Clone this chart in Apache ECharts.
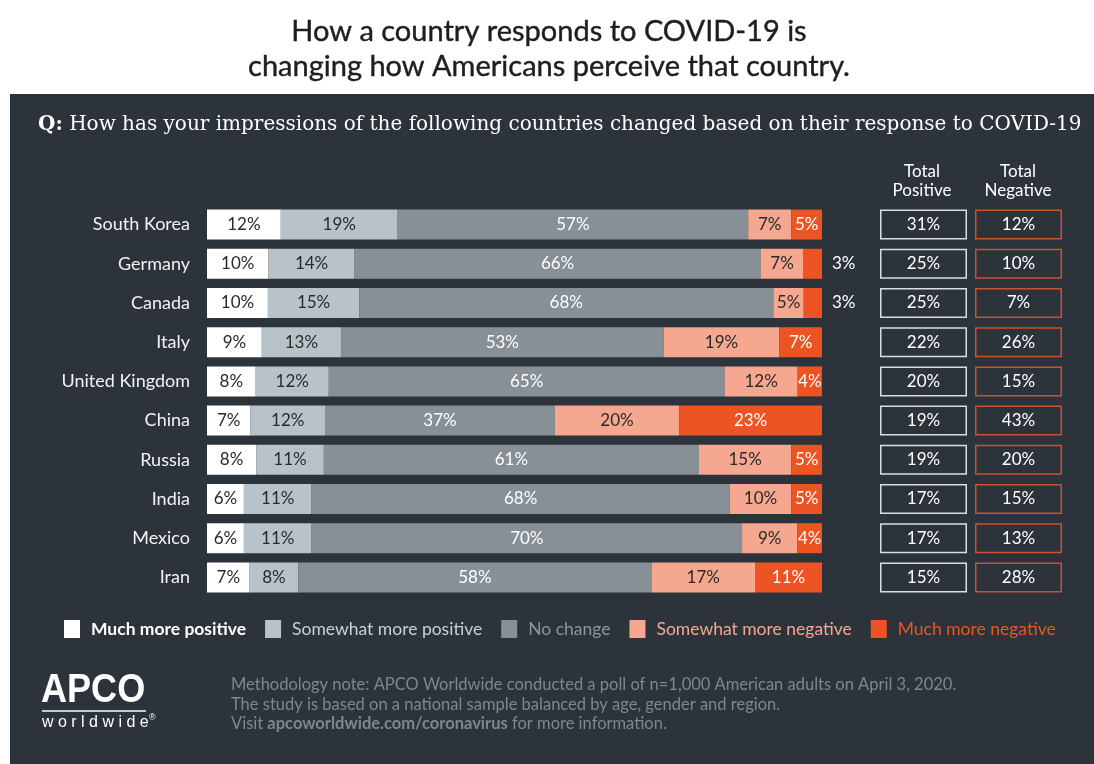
<!DOCTYPE html>
<html>
<head>
<meta charset="utf-8">
<script src="https://cdn.jsdelivr.net/npm/echarts@6/dist/echarts.min.js"></script>
<style>
html,body{margin:0;padding:0;background:#fff;}
#chart{width:1094px;height:764px;}
</style>
</head>
<body>
<div id="chart"></div>
<script>
const categories = ['South Korea','Germany','Canada','Italy','United Kingdom','China','Russia','India','Mexico','Iran'];
const muchPositive = [12,10,10,9,8,7,8,6,6,7];
const somewhatPositive = [19,14,15,13,12,12,11,11,11,8];
const noChange = [57,66,68,53,65,37,61,68,70,58];
const somewhatNegative = [7,7,5,19,12,20,15,10,9,17];
const muchNegative = [5,3,3,7,4,23,5,5,4,11];
const totalPositive = [31,25,25,22,20,19,19,17,17,15];
const totalNegative = [12,10,7,26,15,43,20,15,13,28];
const seriesNames = ['Much more positive','Somewhat more positive','No change','Somewhat more negative','Much more negative'];

const PANEL = '#2c333b';
const colors = ['#ffffff','#b8c2c9','#889097','#f5a78f','#ec5523'];
const labelColors = ['#2a2a2a','#2a2a2a','#ffffff','#2a2a2a','#ffffff'];
const legendTextColors = ['#ffffff','#c9d1d6','#8d959c','#f5a78f','#ec5523'];
const FONT = 'Lato';

const allSeries = [muchPositive, somewhatPositive, noChange, somewhatNegative, muchNegative];
const rowSums = categories.map((c,i)=>allSeries.reduce((s,arr)=>s+arr[i],0));

const GRID_TOP = 205, GRID_H = 392;

const barSeries = allSeries.map((vals, k) => ({
  name: seriesNames[k],
  type: 'bar',
  stack: 'total',
  xAxisIndex: 0, yAxisIndex: 0,
  barWidth: 30,
  itemStyle: {color: colors[k]},
  data: vals.map((v,i) => {
    const small = v < 4;
    return {
      value: v / rowSums[i] * 100,
      raw: v,
      label: small ? {position: 'right', distance: 10, color: '#ffffff'} : {}
    };
  }),
  label: {
    show: true,
    position: 'inside',
    color: labelColors[k],
    fontFamily: FONT,
    fontSize: 17,
    formatter: p => p.data.raw + '%'
  }
}));

function totalSeries(arr, gridIdx, border) {
  return {
    type: 'bar',
    xAxisIndex: gridIdx, yAxisIndex: gridIdx,
    barWidth: 30,
    silent: true,
    itemStyle: {color: 'rgba(0,0,0,0)', borderColor: border, borderWidth: 1.5},
    data: arr.map(v => ({value: 1, raw: v})),
    label: {
      show: true, position: 'inside', color: '#ffffff', fontFamily: FONT, fontSize: 17,
      formatter: p => p.data.raw + '%'
    }
  };
}

const chart = echarts.init(document.getElementById('chart'), null, {renderer: 'canvas'});

const option = {
  backgroundColor: '#ffffff',
  animation: false,
  graphic: [
    {type: 'rect', z: -10, shape: {x: 10, y: 94, width: 1084, height: 670}, style: {fill: PANEL}},
    {type: 'text', x: 549, y: 14, style: {
      text: 'How a country responds to COVID-19 is\nchanging how Americans perceive that country.',
      fontFamily: FONT, fontSize: 29, lineHeight: 35, fill: '#1e1e1e', textAlign: 'center',
      stroke: '#1e1e1e', lineWidth: 0.4
    }},
    {type: 'text', left: 38, top: 115, style: {
      text: '{b|Q:} How has your impressions of the following countries changed based on their response to COVID-19',
      fontFamily: 'DejaVu Serif', fontSize: 20, fill: '#ffffff',
      rich: {b: {fontFamily: 'DejaVu Serif', fontSize: 20, fontWeight: 'bold', fill: '#ffffff'}}
    }},
    {type: 'text', x: 922, y: 162, style: {text: 'Total\nPositive', fontFamily: FONT, fontSize: 17, lineHeight: 19, fill: '#ffffff', textAlign: 'center'}},
    {type: 'text', x: 1018, y: 162, style: {text: 'Total\nNegative', fontFamily: FONT, fontSize: 17, lineHeight: 19, fill: '#ffffff', textAlign: 'center'}},
    {type: 'text', x: 41, y: 670, scaleX: 0.88, style: {text: 'APCO', fontFamily: 'Liberation Sans', fontWeight: 'bold', fontSize: 41, fill: '#ffffff'}},
    {type: 'rect', shape: {x: 42, y: 710, width: 104, height: 2}, style: {fill: '#c8c8c8'}},
    {type: 'text', x: 42, y: 715, style: {text: 'w o r l d w i d e', fontFamily: 'Liberation Sans', fontSize: 16, fill: '#ffffff'}},
    {type: 'text', x: 149, y: 713, style: {text: '®', fontFamily: 'Liberation Sans', fontSize: 9, fill: '#ffffff'}},
    {type: 'text', x: 231, y: 675, style: {
      text: 'Methodology note: APCO Worldwide conducted a poll of n=1,000 American adults on April 3, 2020.\nThe study is based on a national sample balanced by age, gender and region.\nVisit {b|apcoworldwide.com/coronavirus} for more information.',
      fontFamily: FONT, fontSize: 16.5, lineHeight: 19.5, fill: '#7f878e',
      rich: {b: {fontFamily: FONT, fontSize: 16.5, fontWeight: 'bold', fill: '#7f878e'}}
    }}
  ],
  legend: {
    left: 64, top: 620, padding: 0,
    icon: 'rect', itemWidth: 16, itemHeight: 18, itemGap: 19,
    selectedMode: false,
    textStyle: {fontFamily: FONT, fontSize: 17.5, padding: [0,0,0,6]},
    data: seriesNames.map((n,k)=>({name: n, itemStyle: {color: colors[k]}, textStyle: {color: legendTextColors[k], fontWeight: k===0 ? 'bold' : 'normal'}}))
  },
  grid: [
    {left: 207, width: 615, top: GRID_TOP, height: GRID_H, containLabel: false},
    {left: 880, width: 87, top: GRID_TOP, height: GRID_H},
    {left: 975, width: 87, top: GRID_TOP, height: GRID_H}
  ],
  xAxis: [
    {type: 'value', gridIndex: 0, min: 0, max: 100, show: false},
    {type: 'value', gridIndex: 1, min: 0, max: 1, show: false},
    {type: 'value', gridIndex: 2, min: 0, max: 1, show: false}
  ],
  yAxis: [
    {type: 'category', gridIndex: 0, data: categories, inverse: true,
      axisLine: {show: false}, axisTick: {show: false}, splitLine: {show: false},
      axisLabel: {color: '#f2f2f2', fontFamily: FONT, fontSize: 18, margin: 17}},
    {type: 'category', gridIndex: 1, data: categories, inverse: true, show: false},
    {type: 'category', gridIndex: 2, data: categories, inverse: true, show: false}
  ],
  series: [
    ...barSeries,
    totalSeries(totalPositive, 1, '#d9dee2'),
    totalSeries(totalNegative, 2, '#c8532e')
  ]
};
chart.setOption(option);
</script>
</body>
</html>
